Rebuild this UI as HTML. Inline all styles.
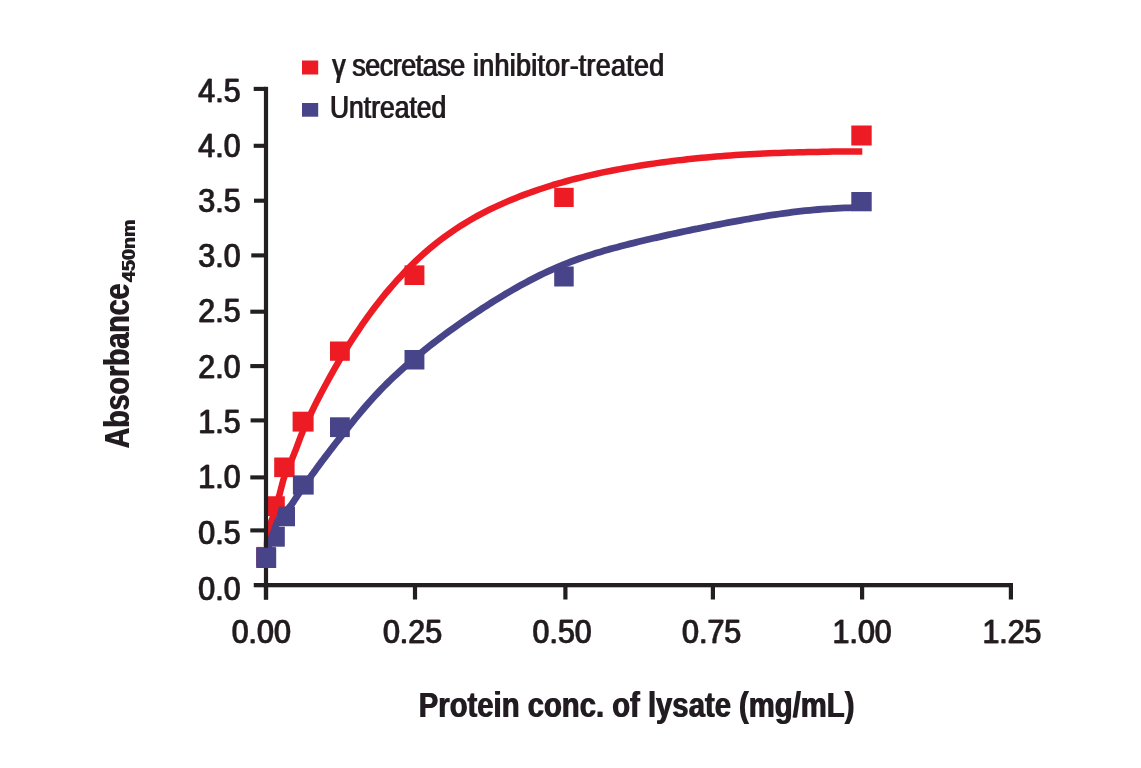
<!DOCTYPE html>
<html lang="en"><head><meta charset="utf-8"><title>ELISA absorbance chart</title>
<style>html,body{margin:0;padding:0;background:#fff}svg{display:block}text{font-family:"Liberation Sans",sans-serif;fill:#231F20}.b{font-weight:bold}</style></head><body>
<svg width="1141" height="768" viewBox="0 0 1141 768">
<rect width="1141" height="768" fill="#fff"/>
<defs><filter id="w1" filterUnits="userSpaceOnUse" x="0" y="0" width="1141" height="768"><feOffset dx="1.0" dy="0" result="o"/><feMerge><feMergeNode in="SourceGraphic"/><feMergeNode in="o"/></feMerge></filter><filter id="w4" filterUnits="userSpaceOnUse" x="0" y="0" width="1141" height="768"><feOffset dx="0.8" dy="0" result="o"/><feMerge><feMergeNode in="SourceGraphic"/><feMergeNode in="o"/></feMerge></filter><filter id="w2" filterUnits="userSpaceOnUse" x="0" y="0" width="1141" height="768"><feOffset dx="1.2" dy="0" result="o"/><feMerge><feMergeNode in="SourceGraphic"/><feMergeNode in="o"/></feMerge></filter><filter id="w3" filterUnits="userSpaceOnUse" x="0" y="0" width="1141" height="768"><feOffset dx="0" dy="1.2" result="o"/><feMerge><feMergeNode in="SourceGraphic"/><feMergeNode in="o"/></feMerge></filter></defs>
<rect x="256.25" y="546.90" width="19.55" height="19.60" fill="#ED1C24"/>
<rect x="265.00" y="496.25" width="19.80" height="19.75" fill="#ED1C24"/>
<rect x="274.20" y="457.50" width="20.40" height="19.60" fill="#ED1C24"/>
<rect x="292.60" y="411.70" width="21.00" height="19.90" fill="#ED1C24"/>
<rect x="330.00" y="341.50" width="19.80" height="19.30" fill="#ED1C24"/>
<rect x="404.50" y="265.40" width="19.90" height="19.60" fill="#ED1C24"/>
<rect x="554.20" y="187.80" width="19.50" height="19.20" fill="#ED1C24"/>
<rect x="851.30" y="125.50" width="20.40" height="20.00" fill="#ED1C24"/>
<rect x="265.00" y="526.70" width="19.80" height="20.00" fill="#484489"/>
<rect x="277.10" y="506.70" width="17.90" height="19.55" fill="#484489"/>
<rect x="292.90" y="475.40" width="20.80" height="19.20" fill="#484489"/>
<rect x="330.00" y="417.30" width="19.80" height="19.80" fill="#484489"/>
<rect x="404.50" y="350.00" width="19.90" height="19.50" fill="#484489"/>
<rect x="554.20" y="266.50" width="19.50" height="20.00" fill="#484489"/>
<rect x="851.30" y="192.00" width="20.40" height="19.30" fill="#484489"/>
<path d="M267.0,546.0 L267.0,544.0 L267.1,542.0 L267.2,540.0 L267.4,538.0 L267.6,536.0 L267.9,534.0 L268.3,532.1 L268.8,530.1 L269.2,528.2 L269.8,526.3 L270.4,524.4 L271.0,522.5 L271.6,520.6 L272.3,518.7 L272.8,516.8 L273.4,514.9 L273.9,513.0 L274.4,511.0 L274.9,509.1 L275.5,507.2 L276.1,505.3 L276.7,503.4 L277.3,501.5 L278.0,499.6 L278.6,497.7 L279.1,495.8 L279.7,493.9 L280.2,491.9 L280.7,490.0 L281.2,488.0 L281.7,486.1 L282.2,484.2 L282.7,482.2 L283.2,480.3 L283.8,478.4 L284.5,476.5 L285.1,474.6 L285.9,472.8 L286.6,471.0 L287.4,469.1 L288.2,467.3 L289.1,465.5 L289.9,463.7 L290.7,461.8 L291.6,460.0 L292.4,458.2 L293.1,456.3 L293.9,454.5 L294.6,452.6 L295.4,450.7 L296.1,448.8 L296.8,447.0 L297.5,445.1 L298.2,443.2 L298.9,441.3 L299.6,439.4 L300.3,437.6 L301.0,435.7 L301.8,433.9 L302.5,432.1 L304.4,427.6 L306.4,423.2 L308.4,418.9 L310.4,414.5 L312.5,410.2 L314.6,405.9 L316.8,401.6 L319.0,397.3 L321.2,393.0 L323.5,388.8 L325.8,384.5 L328.1,380.2 L330.5,375.9 L332.9,371.6 L335.3,367.4 L337.8,363.1 L340.2,358.9 L342.8,354.7 L345.3,350.5 L347.9,346.3 L350.6,342.1 L353.2,338.0 L355.9,333.9 L358.7,329.8 L361.4,325.7 L364.3,321.6 L367.1,317.6 L370.0,313.6 L372.9,309.7 L375.9,305.8 L378.9,301.9 L382.0,298.0 L385.0,294.2 L388.2,290.5 L391.3,286.8 L394.6,283.1 L397.8,279.4 L401.1,275.9 L404.5,272.3 L407.8,268.8 L411.3,265.4 L414.7,262.0 L418.3,258.7 L421.8,255.4 L425.4,252.2 L429.1,249.1 L432.8,246.0 L436.5,243.0 L440.3,240.0 L444.2,237.1 L448.1,234.3 L452.0,231.6 L456.0,228.9 L460.0,226.3 L464.1,223.7 L468.2,221.2 L472.4,218.8 L476.6,216.4 L480.8,214.1 L485.1,211.9 L489.4,209.7 L493.7,207.6 L498.1,205.6 L502.5,203.6 L507.0,201.6 L511.5,199.7 L516.0,197.9 L520.5,196.1 L525.1,194.4 L529.7,192.7 L534.3,191.1 L538.9,189.5 L543.6,188.0 L548.2,186.5 L552.9,185.0 L557.6,183.7 L562.4,182.3 L567.1,181.0 L571.9,179.7 L576.6,178.5 L581.4,177.3 L586.2,176.2 L591.0,175.1 L595.8,174.0 L600.6,172.9 L605.4,171.9 L610.2,171.0 L615.1,170.0 L619.9,169.1 L624.7,168.2 L629.5,167.4 L634.3,166.6 L639.2,165.8 L644.0,165.0 L648.8,164.3 L653.6,163.6 L658.4,162.9 L663.2,162.2 L668.0,161.6 L672.8,161.0 L677.6,160.4 L682.4,159.9 L687.3,159.3 L692.1,158.8 L696.9,158.3 L701.7,157.8 L706.5,157.4 L711.3,157.0 L716.1,156.6 L720.9,156.2 L725.8,155.8 L730.6,155.5 L735.4,155.1 L740.2,154.8 L745.1,154.5 L749.9,154.2 L754.7,154.0 L759.6,153.7 L764.4,153.5 L769.2,153.3 L774.1,153.1 L778.9,152.9 L783.8,152.7 L788.7,152.6 L793.5,152.4 L798.4,152.3 L803.3,152.2 L808.2,152.1 L813.0,151.9 L817.9,151.9 L822.8,151.8 L827.7,151.7 L832.7,151.6 L837.6,151.6 L842.5,151.5 L847.4,151.5 L852.4,151.5 L857.3,151.4 L862.3,151.4" fill="none" stroke="#ED1C24" stroke-width="6.5" stroke-linejoin="round"/>
<path d="M267.5,550.0 L268.0,548.1 L268.6,546.1 L269.2,544.2 L269.9,542.3 L270.5,540.5 L271.2,538.6 L271.9,536.7 L272.6,534.8 L273.2,533.0 L273.9,531.1 L274.6,529.2 L275.3,527.3 L276.0,525.4 L276.7,523.5 L277.4,521.6 L278.2,519.8 L279.2,518.0 L280.2,516.4 L281.5,514.8 L282.8,513.4 L284.3,512.0 L285.8,510.7 L287.2,509.3 L288.7,508.0 L290.0,506.5 L291.3,505.0 L292.4,503.3 L293.5,501.7 L294.6,500.0 L295.7,498.3 L296.8,496.7 L297.9,495.0 L299.0,493.4 L300.1,491.7 L301.3,490.1 L302.4,488.4 L303.5,486.8 L304.7,485.1 L305.8,483.5 L307.0,481.9 L308.1,480.2 L309.3,478.6 L310.5,477.0 L311.6,475.3 L312.8,473.7 L314.0,472.1 L315.2,470.5 L316.3,468.9 L317.5,467.2 L318.7,465.6 L319.9,464.0 L321.1,462.4 L322.3,460.8 L323.5,459.2 L324.7,457.6 L325.9,456.0 L327.2,454.4 L328.4,452.8 L329.6,451.2 L330.8,449.7 L333.5,446.2 L336.1,442.8 L338.8,439.3 L341.5,435.9 L344.2,432.5 L346.9,429.1 L349.6,425.7 L352.3,422.3 L355.0,418.9 L357.8,415.6 L360.5,412.3 L363.3,409.0 L366.1,405.7 L369.0,402.4 L371.9,399.2 L374.8,396.0 L377.8,392.8 L380.8,389.7 L383.9,386.5 L386.9,383.5 L390.1,380.4 L393.2,377.4 L396.4,374.4 L399.6,371.4 L402.9,368.4 L406.2,365.5 L409.5,362.6 L412.8,359.8 L416.1,357.0 L419.5,354.2 L422.9,351.4 L426.3,348.6 L429.7,345.9 L433.1,343.3 L436.6,340.6 L440.1,338.0 L443.5,335.4 L447.0,332.8 L450.5,330.3 L454.1,327.7 L457.6,325.2 L461.1,322.8 L464.7,320.3 L468.3,317.9 L471.9,315.4 L475.5,313.0 L479.2,310.6 L482.8,308.2 L486.5,305.9 L490.1,303.5 L493.8,301.2 L497.6,298.9 L501.3,296.6 L505.0,294.3 L508.8,292.1 L512.6,289.9 L516.4,287.7 L520.2,285.6 L524.1,283.5 L527.9,281.4 L531.8,279.4 L535.7,277.4 L539.6,275.4 L543.5,273.5 L547.5,271.6 L551.4,269.8 L555.4,268.1 L559.4,266.3 L563.4,264.7 L567.5,263.1 L571.5,261.5 L575.6,260.0 L579.7,258.5 L583.8,257.1 L588.0,255.7 L592.1,254.4 L596.2,253.1 L600.4,251.9 L604.6,250.6 L608.8,249.4 L613.0,248.3 L617.2,247.2 L621.4,246.0 L625.6,245.0 L629.9,243.9 L634.1,242.9 L638.3,241.8 L642.6,240.8 L646.8,239.8 L651.1,238.8 L655.3,237.8 L659.6,236.9 L663.8,235.9 L668.1,234.9 L672.3,234.0 L676.6,233.1 L680.9,232.1 L685.1,231.2 L689.4,230.3 L693.7,229.4 L698.0,228.6 L702.2,227.7 L706.5,226.8 L710.8,226.0 L715.1,225.1 L719.3,224.3 L723.6,223.5 L727.9,222.7 L732.2,221.9 L736.5,221.1 L740.7,220.3 L745.0,219.5 L749.3,218.8 L753.6,218.0 L757.9,217.3 L762.2,216.6 L766.5,215.9 L770.8,215.2 L775.1,214.6 L779.4,214.0 L783.7,213.4 L788.0,212.8 L792.4,212.2 L796.7,211.7 L801.0,211.2 L805.3,210.7 L809.7,210.3 L814.0,209.9 L818.3,209.5 L822.7,209.1 L827.0,208.8 L831.4,208.6 L835.8,208.3 L840.1,208.1 L844.5,207.9 L848.9,207.8 L853.3,207.7 L857.7,207.7 L862.1,207.7" fill="none" stroke="#484489" stroke-width="6.8" stroke-linejoin="round"/>
<rect x="263.9" y="86.8" width="4.2" height="512.8" fill="#231F20"/>
<rect x="253.75" y="583" width="759.25" height="4.3" fill="#231F20"/>
<rect x="253.7" y="86.85" width="12.300000000000011" height="4.1" fill="#231F20"/>
<rect x="253.7" y="143.75" width="12.300000000000011" height="4.1" fill="#231F20"/>
<rect x="254.0" y="198.65" width="12.0" height="4.1" fill="#231F20"/>
<rect x="251.3" y="253.35" width="14.699999999999989" height="4.1" fill="#231F20"/>
<rect x="250.3" y="309.65" width="15.699999999999989" height="4.1" fill="#231F20"/>
<rect x="250.3" y="364.05" width="15.699999999999989" height="4.1" fill="#231F20"/>
<rect x="250.6" y="418.35" width="15.400000000000006" height="4.1" fill="#231F20"/>
<rect x="250.3" y="475.35" width="15.699999999999989" height="4.1" fill="#231F20"/>
<rect x="250.3" y="528.35" width="15.699999999999989" height="4.1" fill="#231F20"/>
<rect x="263.90" y="585" width="4.2" height="14.5" fill="#231F20"/>
<rect x="412.90" y="585" width="4.2" height="14.5" fill="#231F20"/>
<rect x="563.30" y="585" width="4.2" height="14.5" fill="#231F20"/>
<rect x="710.80" y="585" width="4.2" height="14.5" fill="#231F20"/>
<rect x="860.00" y="585" width="4.2" height="14.5" fill="#231F20"/>
<rect x="1008.80" y="585" width="4.2" height="14.5" fill="#231F20"/>
<rect x="256.20" y="547.70" width="20.00" height="20.30" fill="#484489"/>
<rect x="302.00" y="60.50" width="16.20" height="14.00" fill="#ED1C24"/>
<rect x="302.00" y="103.00" width="16.20" height="13.70" fill="#484489"/>
<g filter="url(#w1)" stroke="#231F20" stroke-width="0.3" stroke-linejoin="round">
<text transform="translate(240.00,102.00) scale(0.9,1)" font-size="33.7" text-anchor="end" class="">4.5</text>
<text transform="translate(240.00,157.00) scale(0.9,1)" font-size="33.7" text-anchor="end" class="">4.0</text>
<text transform="translate(240.00,212.20) scale(0.9,1)" font-size="33.7" text-anchor="end" class="">3.5</text>
<text transform="translate(240.00,267.30) scale(0.9,1)" font-size="33.7" text-anchor="end" class="">3.0</text>
<text transform="translate(240.00,322.40) scale(0.9,1)" font-size="33.7" text-anchor="end" class="">2.5</text>
<text transform="translate(240.00,377.80) scale(0.9,1)" font-size="33.7" text-anchor="end" class="">2.0</text>
<text transform="translate(240.00,432.70) scale(0.9,1)" font-size="33.7" text-anchor="end" class="">1.5</text>
<text transform="translate(240.00,487.60) scale(0.9,1)" font-size="33.7" text-anchor="end" class="">1.0</text>
<text transform="translate(240.00,543.50) scale(0.9,1)" font-size="33.7" text-anchor="end" class="">0.5</text>
<text transform="translate(240.00,599.70) scale(0.9,1)" font-size="33.7" text-anchor="end" class="">0.0</text>
<text transform="translate(260.75,643.00) scale(0.9,1)" font-size="33.7" text-anchor="middle" class="">0.00</text>
<text transform="translate(412.00,643.00) scale(0.9,1)" font-size="33.7" text-anchor="middle" class="">0.25</text>
<text transform="translate(561.60,643.00) scale(0.9,1)" font-size="33.7" text-anchor="middle" class="">0.50</text>
<text transform="translate(711.10,643.00) scale(0.9,1)" font-size="33.7" text-anchor="middle" class="">0.75</text>
<text transform="translate(861.60,643.00) scale(0.9,1)" font-size="33.7" text-anchor="middle" class="">1.00</text>
<text transform="translate(1011.40,643.00) scale(0.9,1)" font-size="33.7" text-anchor="middle" class="">1.25</text>
</g>
<g filter="url(#w4)" stroke="#231F20" stroke-width="0.12">
<text transform="translate(331.70,76.40) scale(0.84,1)" font-size="32" text-anchor="start" class="">γ<tspan dx="-1"> </tspan><tspan letter-spacing="-0.55">secretase</tspan><tspan dx="1.1"> </tspan><tspan letter-spacing="0.33">inhibitor-treated</tspan></text>
<text transform="translate(329.50,118.00) scale(0.8275,1)" font-size="32" text-anchor="start" class="">Untreated</text>
</g>
<g filter="url(#w2)">
<text transform="translate(418.30,716.60) scale(0.836,1)" font-size="35" text-anchor="start" class="b">Protein conc. of lysate (mg/mL)</text>
</g>
<g filter="url(#w3)">
<text transform="translate(129.4,447.8) rotate(-90) scale(0.815,1)" font-size="35" class="b">Absorbance</text>
<text transform="translate(135.0,281.4) rotate(-90) scale(1.036,1)" font-size="19" class="b">450nm</text>
</g>
</svg></body></html>
